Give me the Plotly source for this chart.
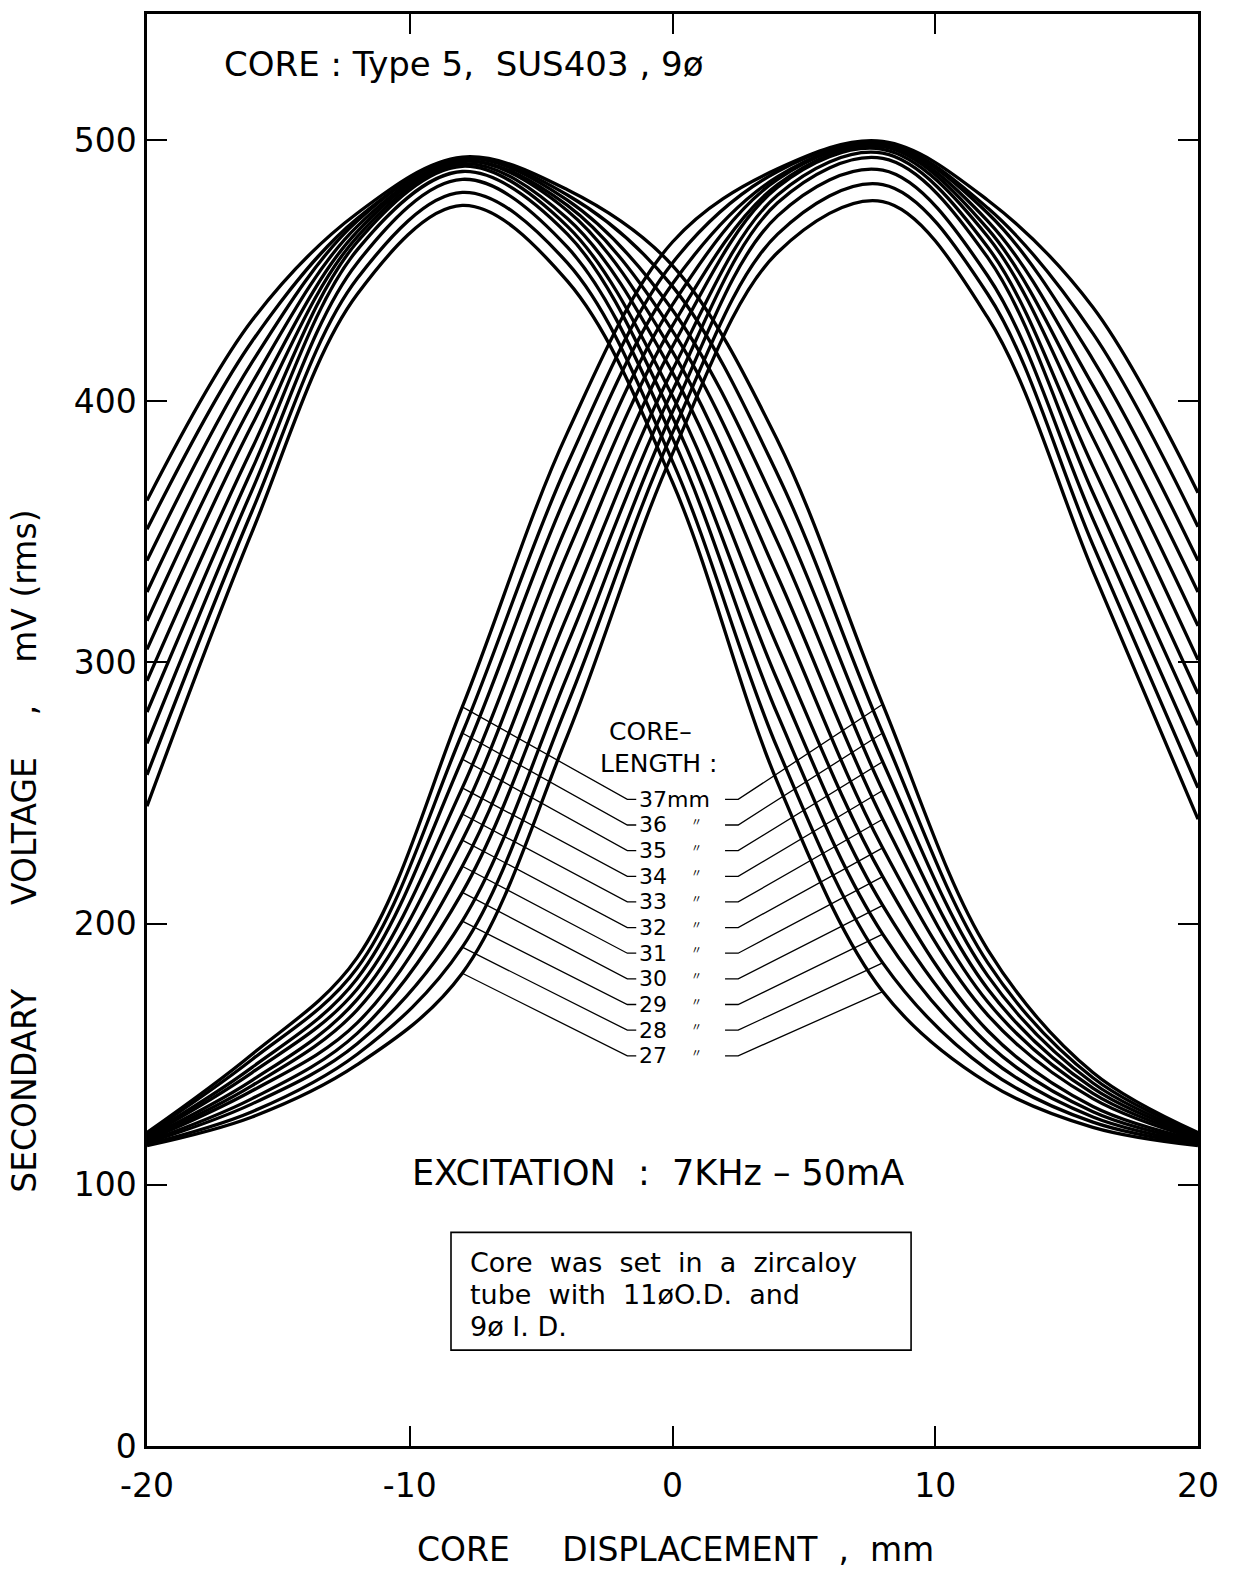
import plotly.graph_objects as go

# ---------------- data ----------------
X_MM = [-20, -16, -12, -8, -4, 0, 4, 8, 12, 16, 20]
CORE_LENGTHS = [27, 28, 29, 30, 31, 32, 33, 34, 35, 36, 37]

# secondary coil peaking at about -7.5 mm (one row per core length, 27 -> 37 mm)
COIL_A_MV = [
    [245, 350, 441, 475, 446, 369, 254, 174, 139, 122, 115],
    [257, 358, 447, 480, 453, 377, 267, 185, 144, 124, 115.5],
    [269, 366, 453, 485, 459, 386, 280, 196, 149, 126, 116],
    [281, 374, 458, 488, 464, 394, 293, 207, 154, 128, 116.5],
    [293, 382, 461, 490, 467, 402, 306, 218, 159, 130, 117],
    [305, 391, 463, 491, 470, 411, 320, 229, 165, 133, 117.5],
    [316, 399, 465, 492, 473, 419, 333, 240, 170, 135, 118],
    [327, 407, 467, 492, 475, 427, 346, 251, 175, 137, 118.5],
    [339, 415, 469, 493, 477, 435, 359, 262, 180, 139, 119],
    [351, 423, 470, 493, 479, 444, 372, 273, 185, 141, 119.5],
    [362, 431, 472, 493.5, 481, 452, 385, 284, 190, 143, 120],
]

# secondary coil peaking at about +7.5 mm
COIL_B_MV = [
    [115, 126, 146, 181, 272, 380, 457, 476.5, 432, 335, 240],
    [115.5, 128, 150, 191, 284, 388, 464, 483, 441, 345, 252],
    [116, 131, 154, 201, 295, 396, 471, 488.5, 448, 355, 264],
    [116.5, 133, 158, 212, 307, 404, 476, 493, 455, 365, 276],
    [117, 136, 162, 222, 318, 412, 479, 495, 459, 375, 288],
    [117.5, 138, 167, 232, 330, 421, 482, 496.5, 463, 386, 301],
    [118, 140, 171, 242, 342, 429, 483, 497.5, 466, 396, 314],
    [118.5, 143, 175, 252, 353, 437, 485, 498, 469, 406, 327],
    [119, 145, 179, 263, 365, 445, 486, 498.5, 472, 416, 339],
    [119.5, 148, 183, 273, 376, 453, 488, 499, 474, 426, 352],
    [120, 150, 187, 283, 388, 461, 489, 499.5, 477, 436, 365],
]

X_TICKS = [-20, -10, 0, 10, 20]
X_TICK_TEXT = ["-20", "-10", "0", "10", "20"]
Y_TICKS = [0, 100, 200, 300, 400, 500]
Y_TICK_TEXT = ["0", "100", "200", "300", "400", "500"]

FONT = "DejaVu Sans"
BLACK = "#000000"

fig = go.Figure()

for k, vals in zip(CORE_LENGTHS, COIL_A_MV):
    fig.add_trace(go.Scatter(x=X_MM, y=vals, mode="lines", name=f"A {k} mm",
                             line=dict(color=BLACK, width=3.3, shape="spline"),
                             hoverinfo="skip"))
for k, vals in zip(CORE_LENGTHS, COIL_B_MV):
    fig.add_trace(go.Scatter(x=X_MM, y=vals, mode="lines", name=f"B {k} mm",
                             line=dict(color=BLACK, width=3.3, shape="spline"),
                             hoverinfo="skip"))

# ---------------- core-length labels and leader lines ----------------
LABEL_Y_TOP = 247.6
LABEL_STEP = 9.82
LEFT_NUM_X = -1.31
LEFT_STUB = (-1.38, -1.72)
RIGHT_STUB = (2.0, 2.5)
DITTO_X = 0.93
i_left = X_MM.index(-8)
i_right = X_MM.index(8)

n = len(CORE_LENGTHS)
for j, k in enumerate(CORE_LENGTHS):
    rank = n - 1 - j  # 37 on top
    ly = LABEL_Y_TOP - rank * LABEL_STEP
    txt = f"{k}mm" if k == 37 else f"{k}"
    fig.add_annotation(x=LEFT_NUM_X, y=ly, text=txt, showarrow=False, xanchor="left",
                       yanchor="middle", borderpad=0,
                       font=dict(family=FONT, size=22, color=BLACK))
    if k != 37:
        fig.add_annotation(x=DITTO_X, y=ly + 1.5, text="\u3003", showarrow=False,
                           xanchor="center", yanchor="middle", borderpad=0,
                           font=dict(family="Noto Sans CJK JP", size=11, color=BLACK))
    # left leader to coil B curve at -8 mm
    fig.add_trace(go.Scatter(x=[LEFT_STUB[0], LEFT_STUB[1], X_MM[i_left]],
                             y=[ly, ly, COIL_B_MV[j][i_left]], mode="lines",
                             line=dict(color=BLACK, width=1.3), hoverinfo="skip"))
    # right leader to coil A curve at +8 mm
    fig.add_trace(go.Scatter(x=[RIGHT_STUB[0], RIGHT_STUB[1], X_MM[i_right]],
                             y=[ly, ly, COIL_A_MV[j][i_right]], mode="lines",
                             line=dict(color=BLACK, width=1.3), hoverinfo="skip"))

fig.add_annotation(x=-0.82, y=273.6, text="CORE\u2013", showarrow=False,
                   yanchor="middle", borderpad=0,
                   font=dict(family=FONT, size=25, color=BLACK))
fig.add_annotation(x=-0.55, y=261.5, text="LENGTH :", showarrow=False,
                   yanchor="middle", borderpad=0,
                   font=dict(family=FONT, size=25, color=BLACK))

# ---------------- other texts ----------------
fig.add_annotation(x=-17.15, y=529, text="CORE : Type 5,  SUS403 , 9\u00f8", showarrow=False,
                   xanchor="left", yanchor="middle", font=dict(family=FONT, size=34, color=BLACK))
fig.add_annotation(x=-0.55, y=104.7, text="EXCITATION  :  7KHz \u2013 50mA", showarrow=False,
                   yanchor="middle", font=dict(family=FONT, size=35, color=BLACK))

fig.add_shape(type="rect", x0=-8.43, x1=9.08, y0=36.7, y1=81.8,
              line=dict(color=BLACK, width=1.6))
box_lines = ["Core  was  set  in  a  zircaloy", "tube  with  11\u00f8O.D.  and", "9\u00f8 I. D."]
box_y = [70.3, 58.1, 45.9]
for t, yy in zip(box_lines, box_y):
    fig.add_annotation(x=-7.75, y=yy, text=t, showarrow=False, xanchor="left",
                       yanchor="middle", borderpad=0,
                       font=dict(family=FONT, size=27, color=BLACK))

# axis titles
fig.add_annotation(xref="paper", yref="paper", x=0.503, y=-0.072,
                   xanchor="center", yanchor="middle",
                   text="CORE     DISPLACEMENT  ,  mm", showarrow=False,
                   font=dict(family=FONT, size=33, color=BLACK))
fig.add_annotation(xref="paper", yref="paper", x=-0.116, y=0.415,
                   xanchor="center", yanchor="middle",
                   text="SECONDARY        VOLTAGE    ,    mV (rms)", showarrow=False,
                   textangle=-90,
                   font=dict(family=FONT, size=33, color=BLACK))

fig.update_layout(
    width=1238, height=1573,
    margin=dict(l=147, r=40, t=11, b=127),
    paper_bgcolor="white", plot_bgcolor="white",
    showlegend=False,
    xaxis=dict(range=[-20, 20], tickvals=X_TICKS, ticktext=X_TICK_TEXT,
               showline=True, linecolor=BLACK, linewidth=2.5, mirror="ticks",
               ticks="inside", ticklen=20, tickwidth=1.5, tickcolor=BLACK,
               showgrid=False, zeroline=False, ticklabelstandoff=9,
               tickfont=dict(family=FONT, size=33, color=BLACK)),
    yaxis=dict(range=[0, 548.3], tickvals=Y_TICKS, ticktext=Y_TICK_TEXT,
               showline=True, linecolor=BLACK, linewidth=2.5, mirror="ticks",
               ticks="inside", ticklen=20, tickwidth=1.5, tickcolor=BLACK,
               showgrid=False, zeroline=False, ticklabelstandoff=1,
               tickfont=dict(family=FONT, size=33, color=BLACK)),
)

fig.write_html("out.html")
